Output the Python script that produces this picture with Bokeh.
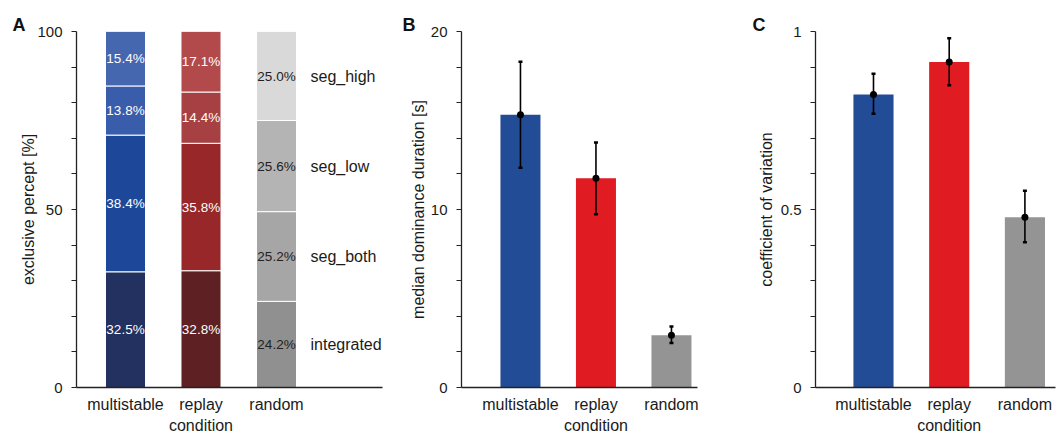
from bokeh.plotting import figure
from bokeh.models import Range1d, FixedTicker, ColumnDataSource
from bokeh.layouts import row
from bokeh.core.properties import value
from bokeh.embed import file_html
from bokeh.resources import INLINE

# ---------------- data ----------------
conditions = ["multistable", "replay", "random"]
x_label = "condition"
percepts = ["integrated", "seg_both", "seg_low", "seg_high"]  # bottom -> top
integrated = [32.5, 32.8, 24.2]
seg_both = [38.4, 35.8, 25.2]
seg_low = [13.8, 14.4, 25.6]
seg_high = [15.4, 17.1, 25.0]

dominance_median = [15.33, 11.75, 2.93]
dominance_lo = [12.35, 9.73, 2.50]
dominance_hi = [18.30, 13.77, 3.43]

cv_mean = [0.823, 0.914, 0.478]
cv_lo = [0.769, 0.849, 0.408]
cv_hi = [0.881, 0.981, 0.553]

ticks_a = [0, 10, 20, 30, 40, 50, 60, 70, 80, 90, 100]
labels_a = {0: "0", 50: "50", 100: "100"}
ticks_b = [0, 2, 4, 6, 8, 10, 12, 14, 16, 18, 20]
labels_b = {0: "0", 10: "10", 20: "20"}
ticks_c = [0, 0.1, 0.2, 0.3, 0.4, 0.5, 0.6, 0.7, 0.8, 0.9, 1]
labels_c = {0: "0", 0.5: "0.5", 1: "1"}

# colours
seg_colors = {
    "multistable": ["#22315f", "#1d4899", "#3a5dab", "#4567b0"],
    "replay": ["#5e2023", "#982729", "#a64042", "#b24a4c"],
    "random": ["#8f908f", "#a6a6a6", "#b4b4b4", "#d9d9d9"],
}
inner_text_color = {"multistable": "white", "replay": "white", "random": "#222222"}
bar_colors = ["#234c97", "#e11b22", "#939493"]

FONT = "Liberation Sans"
TXT = "#1a1a1a"
H = 436
xpos = [1, 2, 3]


def base_fig(width, left, right, xr, yr, ticks, labels, letter, letter_off):
    p = figure(width=width, height=H, x_range=Range1d(*xr), y_range=Range1d(*yr),
               output_backend="svg", toolbar_location=None,
               min_border_left=left, min_border_right=right,
               min_border_top=31, min_border_bottom=48)
    p.outline_line_color = None
    p.grid.visible = False
    p.background_fill_color = "white"
    p.border_fill_color = "white"
    # panel letter as title
    p.title.text = letter
    p.title.align = "left"
    p.title.offset = letter_off
    p.title.standoff = -6
    p.title.text_font = FONT
    p.title.text_font_size = "18px"
    p.title.text_font_style = "bold"
    p.title.text_color = "#111111"
    # y axis
    ya = p.yaxis[0]
    ya.ticker = FixedTicker(ticks=ticks)
    ya.major_label_overrides = {t: labels.get(t, "") for t in ticks}
    ya.major_tick_out = 5
    ya.major_tick_in = 0
    ya.minor_tick_out = 0
    ya.minor_tick_in = 0
    ya.axis_line_color = "#222222"
    ya.major_tick_line_color = "#222222"
    ya.axis_line_width = 1.3
    ya.major_label_text_font = FONT
    ya.major_label_text_font_size = "15px"
    ya.major_label_text_color = TXT
    ya.major_label_standoff = 9
    ya.axis_label_text_font = FONT
    ya.axis_label_text_font_size = "16px"
    ya.axis_label_text_font_style = "normal"
    ya.axis_label_text_color = TXT
    # x axis: category names, "condition" as second line under the middle one
    xa = p.xaxis[0]
    xa.ticker = FixedTicker(ticks=xpos)
    xl = {x: c for x, c in zip(xpos, conditions)}
    xl[xpos[1]] = conditions[1] + "\n" + x_label
    xa.major_label_overrides = xl
    xa.major_tick_out = 0
    xa.major_tick_in = 0
    xa.minor_tick_out = 0
    xa.minor_tick_in = 0
    xa.axis_line_color = "#222222"
    xa.axis_line_width = 1.3
    xa.major_label_text_font = FONT
    xa.major_label_text_font_size = "16px"
    xa.major_label_text_line_height = 1.25
    xa.major_label_text_color = TXT
    xa.major_label_standoff = 8
    return p


# ---------------- panel A ----------------
pA = base_fig(390, 76, 8, (0.351, 4.404), (0, 100), ticks_a, labels_a, "A", -64)
pA.yaxis[0].axis_label = "exclusive percept [%]"
pA.yaxis[0].axis_label_standoff = -3

series = [integrated, seg_both, seg_low, seg_high]
bottoms = [0.0, 0.0, 0.0]
tx, ty, tt, tc = [], [], [], []
for k, vals in enumerate(series):
    tops = [b + v for b, v in zip(bottoms, vals)]
    cols = [seg_colors[c][k] for c in conditions]
    src = ColumnDataSource(dict(x=xpos, bottom=bottoms, top=tops, color=cols))
    pA.vbar(x="x", bottom="bottom", top="top", width=0.53, fill_color="color",
            line_color="white", line_width=1, source=src)
    for i, c in enumerate(conditions):
        tx.append(xpos[i])
        ty.append((bottoms[i] + tops[i]) / 2)
        tt.append(f"{vals[i]:.1f}%")
        tc.append(inner_text_color[c])
    bottoms = tops

pA.text(x="x", y="y", text="t", text_color="c", text_align="center", text_baseline="middle",
        text_font=value(FONT), text_font_size="13.5px",
        source=ColumnDataSource(dict(x=tx, y=ty, t=tt, c=tc)))

# percept names next to the random bar
rb = 0.0
sx, sy = [], []
for k, vals in enumerate(series):
    sy.append(rb + vals[2] / 2)
    sx.append(xpos[2])
    rb += vals[2]
pA.text(x=sx, y=sy, text=percepts, x_offset=34, text_align="left", text_baseline="middle",
        text_font=value(FONT), text_font_size="16px", text_color=TXT)


# ---------------- panels B and C ----------------
def err_panel(width, left, right, xr, yr, ticks, labels, letter, loff,
              mean, lo, hi, ylabel, lstand):
    p = base_fig(width, left, right, xr, yr, ticks, labels, letter, loff)
    p.yaxis[0].axis_label = ylabel
    p.yaxis[0].axis_label_standoff = lstand
    p.vbar(x=xpos, top=mean, bottom=0, width=0.53, fill_color=bar_colors, line_color=None)
    p.segment(x0=xpos, y0=lo, x1=xpos, y1=hi, line_color="black", line_width=1.6)
    p.rect(x=xpos, y=lo, width=4, height=2.5, width_units="screen", height_units="screen",
           fill_color="black", line_color=None)
    p.rect(x=xpos, y=hi, width=4, height=2.5, width_units="screen", height_units="screen",
           fill_color="black", line_color=None)
    p.scatter(x=xpos, y=mean, size=7, marker="circle", fill_color="black", line_color=None)
    return p


pB = err_panel(340, 71, 33, (0.219, 3.345), (0, 20), ticks_b, labels_b, "B", -59,
               dominance_median, dominance_lo, dominance_hi,
               "median dominance duration [s]", 1)

pC = err_panel(333, 85, 8, (0.234, 3.404), (0, 1), ticks_c, labels_c, "C", -63,
               cv_mean, cv_lo, cv_hi, "coefficient of variation", 3)

layout = row(pA, pB, pC)
open("out.html", "w").write(file_html(layout, INLINE))
